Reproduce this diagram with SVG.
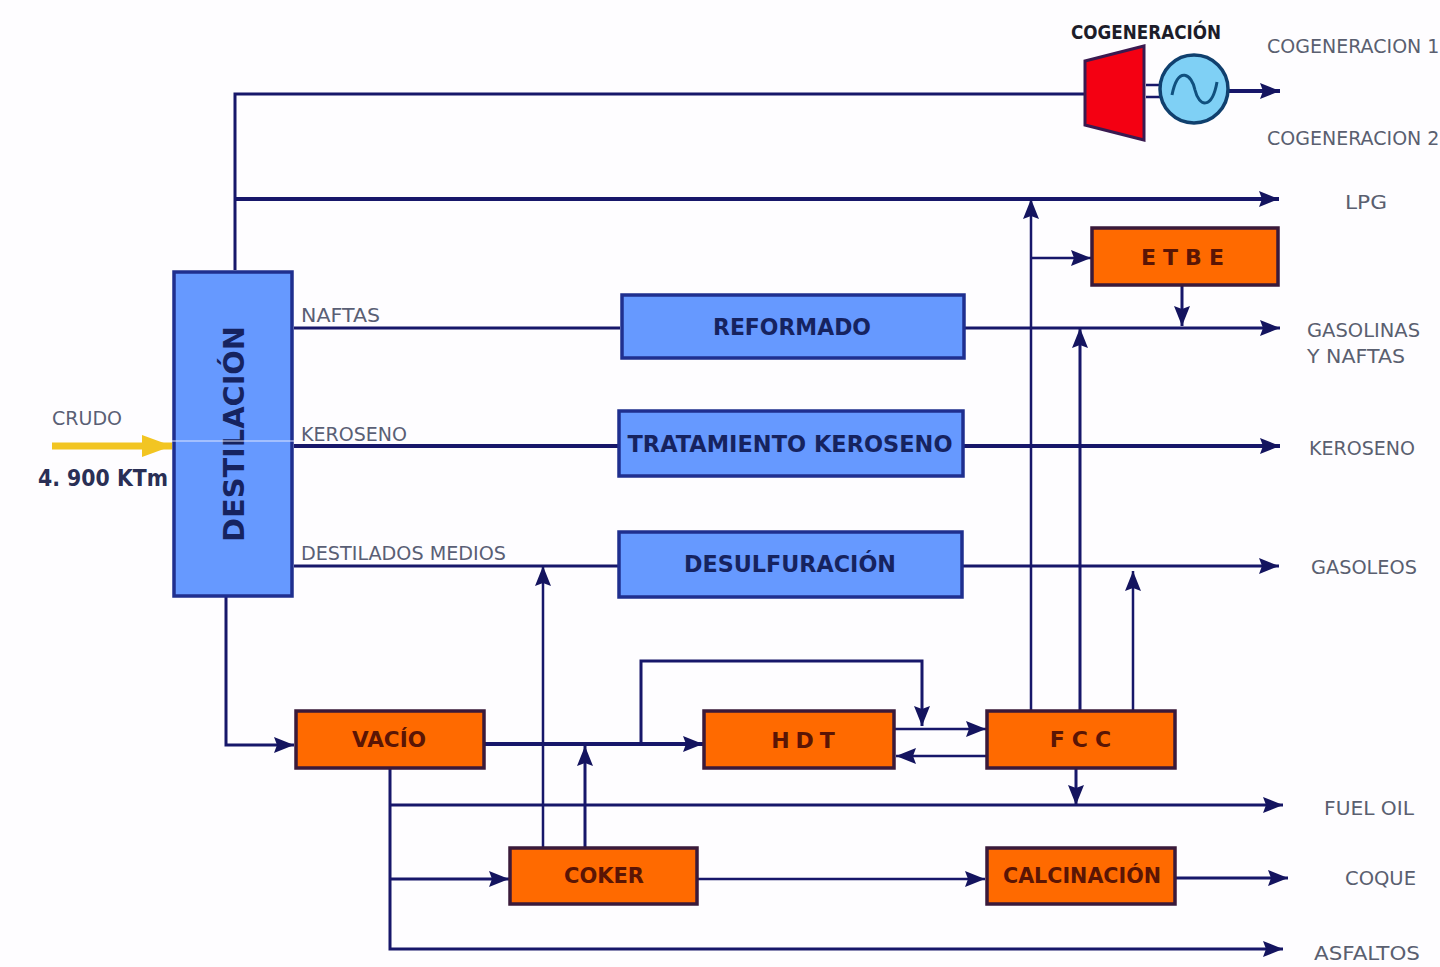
<svg xmlns="http://www.w3.org/2000/svg" width="1440" height="967" viewBox="0 0 1440 967">
<style>
.c{fill:none;stroke:#17176a;stroke-width:3}
.t{stroke-width:4}
.n{stroke-width:2.5}
.b{fill:#6699ff;stroke:#1f2f8f;stroke-width:3.5}
.o{fill:#ff6a00;stroke:#3a1a3a;stroke-width:3.5}
text{font-family:"DejaVu Sans","Liberation Sans",sans-serif}
.l{font-size:20px;fill:#5a5f70}
.g{font-size:19px;fill:#5a5f70}
.s{font-size:19px;fill:#5a5f75}
.bt{font-size:23px;font-weight:bold;fill:#16235f;text-anchor:middle}
.ot{font-size:22px;font-weight:bold;fill:#5a1505;text-anchor:middle}
</style>
<defs>
<marker id="a" viewBox="0 0 20 16" refX="20" refY="8" markerWidth="20" markerHeight="16" markerUnits="userSpaceOnUse" orient="auto"><path d="M0 0L20 8L0 16L3 8Z" fill="#14145f"/></marker>
<marker id="y" viewBox="0 0 32 22" refX="32" refY="11" markerWidth="32" markerHeight="22" markerUnits="userSpaceOnUse" orient="auto"><path d="M2 0L32 11L2 22Z" fill="#f2c522"/></marker>
</defs>
<rect width="1440" height="967" fill="#fefdff"/>
<g id="connectors">
<path class="c" d="M235 270V94H1085"/>
<path class="c t" d="M1228 91H1280" marker-end="url(#a)"/>
<path class="c n" d="M1146 85H1160M1146 97H1160"/>
<path class="c t" d="M235 199H1279" marker-end="url(#a)"/>
<path class="c" d="M294 328H620"/>
<path class="c" d="M965 328H1280" marker-end="url(#a)"/>
<path class="c t" d="M294 446H618"/>
<path class="c t" d="M964 446H1280" marker-end="url(#a)"/>
<path class="c" d="M294 566H618"/>
<path class="c" d="M963 566H1279" marker-end="url(#a)"/>
<path d="M52 446H172" fill="none" stroke="#f2c522" stroke-width="7" marker-end="url(#y)"/>
<path class="c" d="M226 597V745H294" marker-end="url(#a)"/>
<path class="c t" d="M485 744H703" marker-end="url(#a)"/>
<path class="c" d="M641 744V661H922V726" marker-end="url(#a)"/>
<path class="c n" d="M895 729H986" marker-end="url(#a)"/>
<path class="c n" d="M986 756H896" marker-end="url(#a)"/>
<path class="c n" d="M1031 710V199" marker-end="url(#a)"/>
<path class="c" d="M1080 710V328" marker-end="url(#a)"/>
<path class="c n" d="M1133 710V571" marker-end="url(#a)"/>
<path class="c n" d="M1031 258H1091" marker-end="url(#a)"/>
<path class="c" d="M1182 285V326" marker-end="url(#a)"/>
<path class="c" d="M1076 768V805" marker-end="url(#a)"/>
<path class="c" d="M390 768V949H1283" marker-end="url(#a)"/>
<path class="c" d="M390 805H1283" marker-end="url(#a)"/>
<path class="c" d="M390 879H509" marker-end="url(#a)"/>
<path class="c n" d="M543 848V566" marker-end="url(#a)"/>
<path class="c" d="M585 848V746" marker-end="url(#a)"/>
<path class="c n" d="M698 879H985" marker-end="url(#a)"/>
<path class="c" d="M1176 878H1288" marker-end="url(#a)"/>
</g>
<g id="cogeneracion">
<path d="M1085 61L1144 46V140L1085 125Z" fill="#f40012" stroke="#3a1a50" stroke-width="3"/>
<circle cx="1194" cy="89" r="34" fill="#7fd0f5" stroke="#10406e" stroke-width="3.5"/>
<path d="M1172 95C1178 65 1192 74 1195 90C1199 107 1212 110 1217 82" fill="none" stroke="#10507e" stroke-width="3"/>
<text x="1146" y="39" font-size="19" font-weight="bold" fill="#1d1d2a" text-anchor="middle" textLength="150" lengthAdjust="spacingAndGlyphs">COGENERACIÓN</text>
</g>
<g id="destilacion">
<rect class="b" x="174" y="272" width="118" height="324"/>
<text class="bt" transform="translate(244 434) rotate(-90)" style="font-size:29px" textLength="216" lengthAdjust="spacingAndGlyphs">DESTILACIÓN</text>
<path d="M172 441H294" stroke="#dfe6ff" stroke-width="1"/>
</g>
<g id="reformado"><rect class="b" x="622" y="295" width="342" height="63"/><text class="bt" x="792" y="335" textLength="158" lengthAdjust="spacingAndGlyphs">REFORMADO</text></g>
<g id="tratamiento"><rect class="b" x="619" y="411" width="344" height="65"/><text class="bt" x="790" y="452" textLength="325" lengthAdjust="spacingAndGlyphs">TRATAMIENTO KEROSENO</text></g>
<g id="desulfuracion"><rect class="b" x="619" y="532" width="343" height="65"/><text class="bt" x="790" y="572" textLength="212" lengthAdjust="spacingAndGlyphs">DESULFURACIÓN</text></g>
<g id="etbe"><rect class="o" x="1092" y="228" width="186" height="57"/><text class="ot" x="1186" y="265" letter-spacing="7">ETBE</text></g>
<g id="vacio"><rect class="o" x="296" y="711" width="188" height="57"/><text class="ot" x="389" y="747" textLength="74" lengthAdjust="spacingAndGlyphs">VACÍO</text></g>
<g id="hdt"><rect class="o" x="704" y="711" width="190" height="57"/><text class="ot" x="806" y="748" letter-spacing="6">HDT</text></g>
<g id="fcc"><rect class="o" x="987" y="711" width="188" height="57"/><text class="ot" x="1084" y="747" letter-spacing="7">FCC</text></g>
<g id="coker"><rect class="o" x="510" y="848" width="187" height="56"/><text class="ot" x="604" y="883" textLength="80" lengthAdjust="spacingAndGlyphs">COKER</text></g>
<g id="calcinacion"><rect class="o" x="987" y="848" width="188" height="56"/><text class="ot" x="1082" y="883" textLength="158" lengthAdjust="spacingAndGlyphs">CALCINACIÓN</text></g>
<g id="labels">
<text class="s" x="52" y="425" textLength="70" lengthAdjust="spacingAndGlyphs">CRUDO</text>
<text x="38" y="486" font-size="23" font-weight="bold" fill="#2a2f55" textLength="130" lengthAdjust="spacingAndGlyphs">4. 900 KTm</text>
<text class="s" x="301" y="322" textLength="79" lengthAdjust="spacingAndGlyphs">NAFTAS</text>
<text class="s" x="301" y="441" textLength="106" lengthAdjust="spacingAndGlyphs">KEROSENO</text>
<text class="s" x="301" y="560" textLength="205" lengthAdjust="spacingAndGlyphs">DESTILADOS MEDIOS</text>
<text class="g" x="1267" y="53">COGENERACION 1</text>
<text class="g" x="1267" y="145">COGENERACION 2</text>
<text class="l" x="1345" y="209" textLength="42" lengthAdjust="spacingAndGlyphs">LPG</text>
<text class="l" x="1307" y="337" textLength="113" lengthAdjust="spacingAndGlyphs">GASOLINAS</text>
<text class="l" x="1307" y="363" textLength="98" lengthAdjust="spacingAndGlyphs">Y NAFTAS</text>
<text class="l" x="1309" y="455" textLength="106" lengthAdjust="spacingAndGlyphs">KEROSENO</text>
<text class="l" x="1311" y="574" textLength="106" lengthAdjust="spacingAndGlyphs">GASOLEOS</text>
<text class="l" x="1324" y="815" textLength="90" lengthAdjust="spacingAndGlyphs">FUEL OIL</text>
<text class="l" x="1345" y="885" textLength="71" lengthAdjust="spacingAndGlyphs">COQUE</text>
<text class="l" x="1314" y="960" textLength="106" lengthAdjust="spacingAndGlyphs">ASFALTOS</text>
</g>
</svg>
